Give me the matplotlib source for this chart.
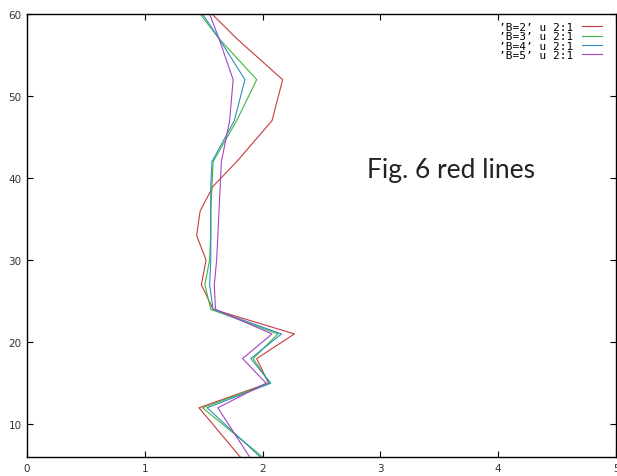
import numpy as np
import matplotlib.pyplot as plt

# valores (x = columna 2, y = columna 1)
y_vals = [60, 57, 52, 47, 42, 39, 36, 33, 30, 27, 24, 21, 18, 15, 12, 6]
b2 = [1.57, 1.78, 2.17, 2.08, 1.78, 1.58, 1.47, 1.44, 1.52, 1.48, 1.58, 2.27, 1.95, 2.05, 1.46, 1.81]
b3 = [1.47, 1.63, 1.95, 1.78, 1.58, 1.57, 1.56, 1.56, 1.55, 1.51, 1.56, 2.13, 1.92, 2.06, 1.49, 2.00]
b4 = [1.49, 1.63, 1.85, 1.76, 1.57, 1.56, 1.56, 1.56, 1.56, 1.55, 1.58, 2.16, 1.90, 2.07, 1.53, 1.98]
b5 = [1.55, 1.63, 1.75, 1.72, 1.65, 1.64, 1.63, 1.62, 1.61, 1.59, 1.60, 2.08, 1.83, 2.03, 1.62, 1.89]

series = [b2, b3, b4, b5]
labels = ["\u2019B=2\u2019 u 2:1", "\u2019B=3\u2019 u 2:1", "\u2019B=4\u2019 u 2:1", "\u2019B=5\u2019 u 2:1"]
colores = ["#c83a3a", "#3cb83c", "#2f8dbf", "#a444c4"]

x_ticks = [0, 1, 2, 3, 4, 5]
y_ticks = [10, 20, 30, 40, 50, 60]

fig = plt.figure(figsize=(6.17, 4.77), dpi=100)
ax = fig.add_axes([27 / 617, 1 - 458 / 477, 589 / 617, 443 / 477])

for s, lab, c in zip(series, labels, colores):
    ax.plot(s, y_vals, color=c, linewidth=0.8, label=lab)

ax.set_xlim(0, 5)
ax.set_ylim(6, 60)
ax.set_xticks(x_ticks)
ax.set_yticks(y_ticks)
ax.tick_params(direction="in", length=4, width=0.8, top=True, right=True,
               labelsize=7.5, labelcolor="#333333", pad=4)
for sp in ax.spines.values():
    sp.set_linewidth(1.0)

# leyenda estilo gnuplot: texto a la izquierda, muestra de linea a la derecha
ax.legend(loc="upper right", bbox_to_anchor=(0.984, 0.992), frameon=False,
          markerfirst=False, prop={"family": "DejaVu Sans Mono", "size": 8},
          handlelength=1.8, labelspacing=-0.05, borderaxespad=0.0,
          borderpad=0.4, handletextpad=0.8)

ax.text(2.89, 40.1, "Fig. 6 red lines", family="Lato", fontsize=19,
        color="#222222", va="baseline", ha="left")

fig.savefig("out.png", dpi=100, facecolor="white")
